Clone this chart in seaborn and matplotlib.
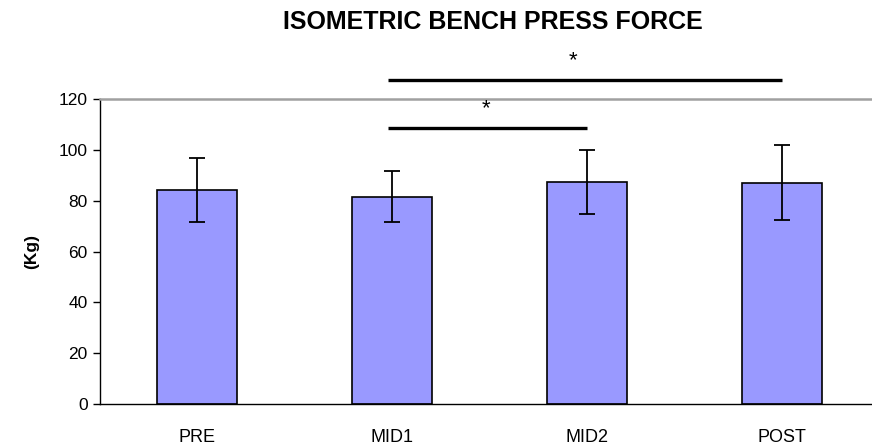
import matplotlib
matplotlib.use("Agg")
import matplotlib.pyplot as plt
import seaborn as sns
import numpy as np
import pandas as pd

categories = ["PRE", "MID1", "MID2", "POST"]
means = [84.2, 81.6, 87.2, 87.1]
sds = [12.4, 10.1, 12.6, 14.8]
yticks = [0, 20, 40, 60, 80, 100, 120]
title = "ISOMETRIC BENCH PRESS FORCE"
ylabel = "(Kg)"
# significance brackets: (start category, end category, y value, star x position)
sig_pairs = [("MID1", "POST", 127.5, 1.93), ("MID1", "MID2", 108.7, 1.48)]

sns.set_style("white")
plt.rcParams['font.family'] = ['Liberation Sans', 'DejaVu Sans']
plt.rcParams['text.color'] = 'black'
plt.rcParams['axes.labelcolor'] = 'black'
plt.rcParams['xtick.color'] = 'black'
plt.rcParams['ytick.color'] = 'black'

df = pd.DataFrame({"cat": categories, "val": means})

fig = plt.figure(figsize=(8.72, 4.46), dpi=100)
ax = fig.add_axes([100/872, 1-404/446, 779/872, 305/446])

sns.barplot(data=df, x="cat", y="val", ax=ax, color="#9999FF", saturation=1,
            edgecolor="black", linewidth=1.2, width=0.41, errorbar=None, zorder=2)
ax.errorbar(np.arange(len(categories)), means, yerr=sds, fmt="none",
            ecolor="black", elinewidth=1.3, capsize=5.8, capthick=1.3, zorder=3)

ax.set_xlim(-0.5, 3.5)
ax.set_ylim(0, 120)
ax.set_yticks(yticks)
ax.set_yticklabels([str(v) for v in yticks], fontsize=12.5)
ax.set_xticks(range(len(categories)))
ax.set_xticklabels(categories, fontsize=13)
ax.set_xticks(np.arange(-0.5, 3.5, 1.0), minor=True)
ax.tick_params(axis="x", which="major", length=0, pad=18)
ax.tick_params(axis="x", which="minor", length=5, width=1, color="black", direction="out")
ax.tick_params(axis="y", which="major", length=5, width=1, color="black", direction="out", left=True, pad=4)
ax.set_xlabel("")
ax.set_ylabel(ylabel, fontsize=12.5, fontweight="bold", labelpad=14)

for s in ["left", "bottom"]:
    ax.spines[s].set_visible(True)
    ax.spines[s].set_color("black")
    ax.spines[s].set_linewidth(1)
ax.spines["top"].set_visible(True)
ax.spines["top"].set_color("#a0a0a0")
ax.spines["top"].set_linewidth(1.8)
ax.spines["right"].set_visible(False)

pos = {c: i for i, c in enumerate(categories)}
for a, b, yv, sx in sig_pairs:
    ax.plot([pos[a] - 0.02, pos[b]], [yv, yv], color="black", lw=2.4,
            clip_on=False, solid_capstyle="butt", zorder=4)
    ax.text(sx, yv + 7.5, "*", ha="center", va="center", fontsize=16, clip_on=False)

fig.text(493/872, 1-22/446, title, ha="center", va="center", fontsize=18, fontweight="bold")

fig.savefig("out.png", dpi=100)
